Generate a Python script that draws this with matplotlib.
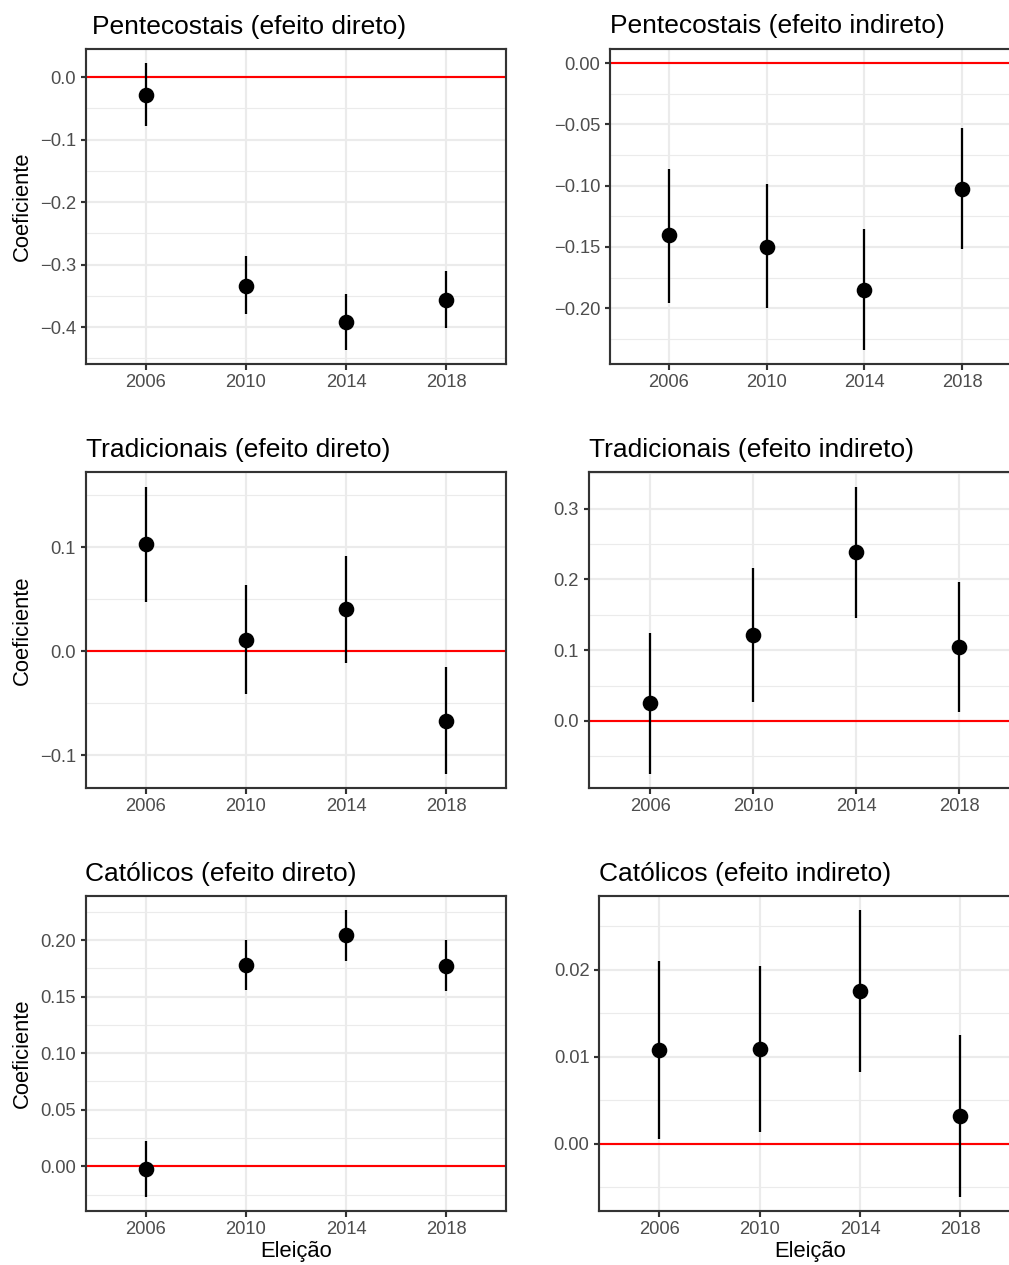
import matplotlib
matplotlib.use('Agg')
import matplotlib.pyplot as plt
from matplotlib.ticker import FixedLocator, FuncFormatter

plt.rcParams['font.family'] = ['Liberation Sans', 'DejaVu Sans']

# ---------------- data ----------------
anos = ['2006', '2010', '2014', '2018']

pent_dir_est = [-0.029, -0.334, -0.392, -0.357]
pent_dir_lo = [-0.079, -0.379, -0.437, -0.401]
pent_dir_hi = [0.022, -0.286, -0.347, -0.311]

pent_ind_est = [-0.1405, -0.1498, -0.1848, -0.1025]
pent_ind_lo = [-0.1954, -0.2000, -0.2343, -0.1520]
pent_ind_hi = [-0.0864, -0.0987, -0.1356, -0.0530]

trad_dir_est = [0.1026, 0.0110, 0.0401, -0.0666]
trad_dir_lo = [0.0471, -0.0416, -0.0118, -0.1179]
trad_dir_hi = [0.1580, 0.0635, 0.0917, -0.0154]

trad_ind_est = [0.0250, 0.1215, 0.2383, 0.1041]
trad_ind_lo = [-0.0749, 0.0268, 0.1455, 0.0123]
trad_ind_hi = [0.1239, 0.2162, 0.3310, 0.1964]

cat_dir_est = [-0.0021, 0.1782, 0.2044, 0.1773]
cat_dir_lo = [-0.0269, 0.1555, 0.1817, 0.1550]
cat_dir_hi = [0.0224, 0.2003, 0.2265, 0.1997]

cat_ind_est = [0.01084, 0.01088, 0.01759, 0.00326]
cat_ind_lo = [0.00057, 0.00138, 0.00831, -0.00609]
cat_ind_hi = [0.02107, 0.02042, 0.02690, 0.01253]

titulos = ['Pentecostais (efeito direto)', 'Pentecostais (efeito indireto)',
           'Tradicionais (efeito direto)', 'Tradicionais (efeito indireto)',
           'Católicos (efeito direto)', 'Católicos (efeito indireto)']

# ---------------- layout ----------------
W, H = 1009, 1265
DPI = 144
fig = plt.figure(figsize=(W / DPI, H / DPI), dpi=DPI)
fig.patch.set_facecolor('white')

# (left, right, top, bottom) in pixels
boxes = [
    (86, 506, 49, 364),
    (610.3, 1020.6, 49.3, 364),
    (86, 506, 472.3, 788),
    (588.7, 1021.1, 472.3, 788),
    (86, 506, 896, 1210.7),
    (599.3, 1020.5, 896, 1210.7),
]
ylims = [(-0.459, 0.0448), (-0.2454, 0.0112), (-0.1314, 0.1718),
         (-0.0947, 0.3514), (-0.0392, 0.2389), (-0.00767, 0.0285)]
major = [[-0.4, -0.3, -0.2, -0.1, 0.0],
         [-0.20, -0.15, -0.10, -0.05, 0.00],
         [-0.1, 0.0, 0.1],
         [0.0, 0.1, 0.2, 0.3],
         [0.00, 0.05, 0.10, 0.15, 0.20],
         [0.00, 0.01, 0.02]]
decs = [1, 2, 1, 1, 2, 2]
title_pos = [(92.5, 34), (610.5, 33.5), (86, 457.5), (589, 457.5), (85, 881), (599, 881)]

series = [
    (pent_dir_est, pent_dir_lo, pent_dir_hi),
    (pent_ind_est, pent_ind_lo, pent_ind_hi),
    (trad_dir_est, trad_dir_lo, trad_dir_hi),
    (trad_ind_est, trad_ind_lo, trad_ind_hi),
    (cat_dir_est, cat_dir_lo, cat_dir_hi),
    (cat_ind_est, cat_ind_lo, cat_ind_hi),
]

LW = 1.07
GRID = '#EBEBEB'
DARK = '#333333'
TICKTXT = '#4D4D4D'


def make_fmt(d):
    def f(v, pos):
        s = f'{v:.{d}f}'
        if float(s) == 0:
            s = s.lstrip('-')
        return s.replace('-', '\u2212')
    return f


for i, ((L, R, T, B), (est, lo, hi)) in enumerate(zip(boxes, series)):
    ax = fig.add_axes([L / W, 1 - B / H, (R - L) / W, (B - T) / H])
    x = list(range(len(anos)))
    ax.set_xlim(-0.6, len(anos) - 1 + 0.6)
    ax.set_ylim(*ylims[i])

    mj = major[i]
    step = mj[1] - mj[0]
    lo_lim, hi_lim = ylims[i]
    minors = []
    k = mj[0] - step / 2
    while k < hi_lim:
        if k > lo_lim:
            minors.append(k)
        k += step
    for m in minors:
        ax.axhline(m, color=GRID, lw=0.55, zorder=0)
    for m in mj:
        ax.axhline(m, color=GRID, lw=LW, zorder=0.5)
    for xx in x:
        ax.axvline(xx, color=GRID, lw=LW, zorder=0.5)

    ax.axhline(0, color='#FF0000', lw=LW, zorder=2)
    ax.vlines(x, lo, hi, color='black', lw=LW * 1.05, zorder=3)
    ax.plot(x, est, 'o', color='black', markersize=6.8, zorder=4)

    ax.xaxis.set_major_locator(FixedLocator(x))
    ax.set_xticklabels(anos)
    ax.yaxis.set_major_locator(FixedLocator(mj))
    ax.yaxis.set_major_formatter(FuncFormatter(make_fmt(decs[i])))
    ax.tick_params(axis='both', length=2.75, width=LW, color=DARK, pad=2.2,
                   labelsize=9.2, labelcolor=TICKTXT)
    for sp in ax.spines.values():
        sp.set_color(DARK)
        sp.set_linewidth(LW)

    tx, ty = title_pos[i]
    fig.text(tx / W, 1 - ty / H, titulos[i], ha='left', va='baseline',
             fontsize=13.2, color='black')

    if i % 2 == 0:
        fig.text(22 / W, 1 - ((T + B) / 2) / H, 'Coeficiente', rotation=90,
                 ha='center', va='center', fontsize=11, color='black')
    if i >= 4:
        fig.text(((L + R) / 2) / W, 1 - 1252 / H, 'Eleição', ha='center',
                 va='center', fontsize=11, color='black')

fig.savefig('out.png', dpi=DPI)
